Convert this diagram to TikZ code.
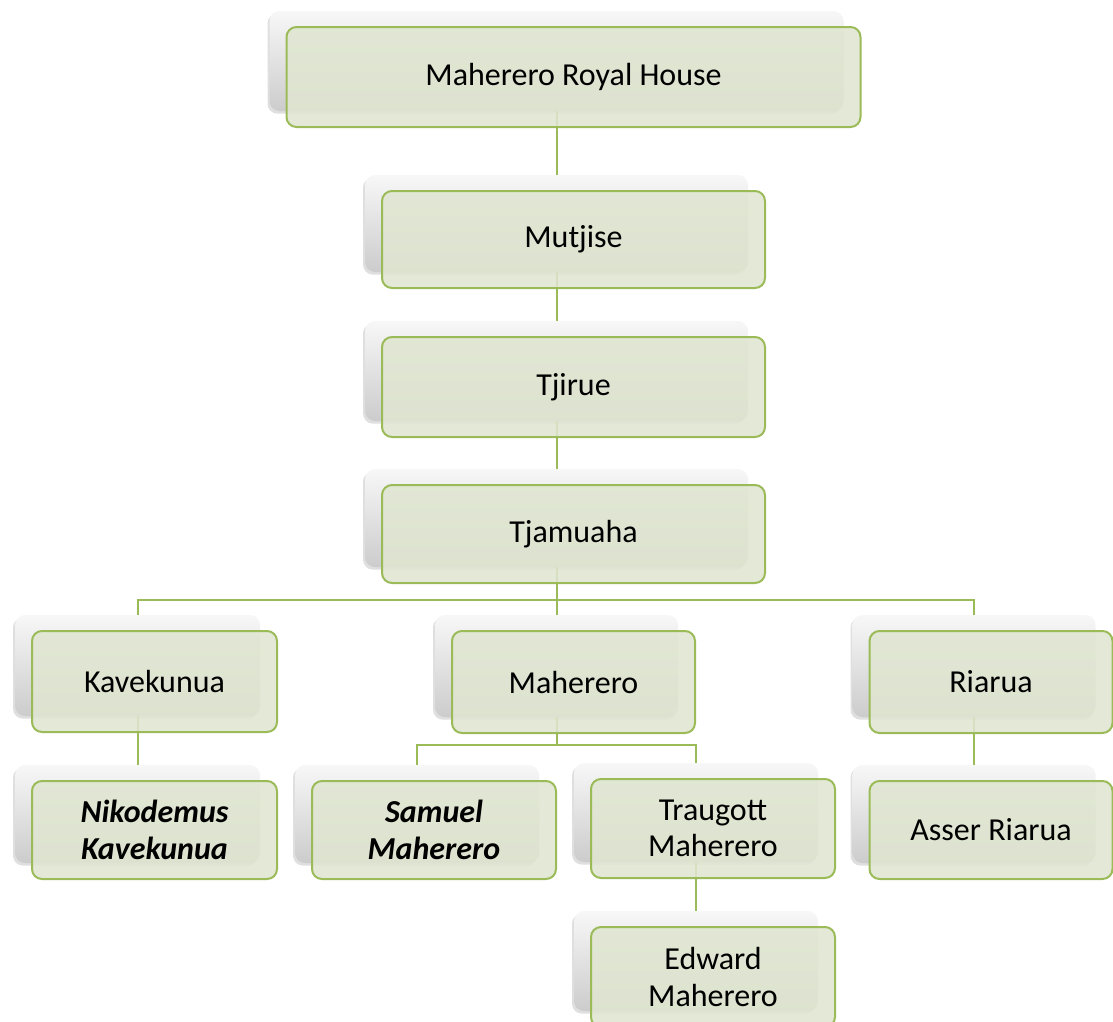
\documentclass[tikz,border=0pt]{standalone}
\usepackage{fontspec}
\setmainfont{Carlito}
\usetikzlibrary{shadows}
\definecolor{gborder}{HTML}{9BBB59}
\definecolor{gfill}{HTML}{DFE6D0}
\tikzset{
 backbox/.style 2 args={rounded corners=7.5pt, minimum width=#1*0.75pt, minimum height=#2*0.75pt,
   top color=white!97!black, bottom color=white!80!black,
   drop shadow={shadow xshift=-1.5pt, shadow yshift=-2pt, opacity=0.25}, inner sep=0pt},
 frontbox/.style 2 args={rounded corners=7.5pt, minimum width=#1*0.75pt, minimum height=#2*0.75pt,
   draw=gborder, line width=1.5pt, fill=gfill, fill opacity=0.88, text opacity=1,
   align=center, font=\fontsize{24}{27.5}\selectfont, inner sep=0pt},
 conn/.style={draw=gborder, line width=1.5pt}
}
\begin{document}
\begin{tikzpicture}[x=0.75pt,y=-0.75pt]
\clip (0,0) rectangle (1113,1021);
\useasboundingbox (0,0) rectangle (1113,1021);
% back boxes
\node[backbox={574}{100}] (top-b) at (556.5,61) {};
\node[backbox={383}{97}]  (mut-b) at (556.5,223.5) {};
\node[backbox={383}{100}] (tji-b) at (556.5,371) {};
\node[backbox={383}{98}]  (tjm-b) at (556.5,518) {};
\node[backbox={245}{101}] (kav-b) at (137.5,665.5) {};
\node[backbox={243}{102}] (mah-b) at (556.5,666) {};
\node[backbox={243}{102}] (ria-b) at (974,666) {};
\node[backbox={245}{98}]  (nik-b) at (137.5,814) {};
\node[backbox={244}{98}]  (sam-b) at (417,814) {};
\node[backbox={244}{99}]  (tra-b) at (696,812.5) {};
\node[backbox={243}{98}]  (ass-b) at (974,814) {};
\node[backbox={244}{100}] (edw-b) at (696,961) {};
% connectors
\coordinate (bus1) at (556.5,600);
\coordinate (bus2) at (556.5,745);
\draw[conn] (top-b.south) -- (mut-b.north);
\draw[conn] (mut-b.south) -- (tji-b.north);
\draw[conn] (tji-b.south) -- (tjm-b.north);
\draw[conn] (tjm-b.south) -- (bus1);
\draw[conn] (kav-b.north) |- (bus1) -| (ria-b.north);
\draw[conn] (bus1) -- (mah-b.north);
\draw[conn] (mah-b.south) -- (bus2);
\draw[conn] (sam-b.north) |- (bus2) -| (tra-b.north);
\draw[conn] (kav-b.south) -- (nik-b.north);
\draw[conn] (ria-b.south) -- (ass-b.north);
\draw[conn] (tra-b.south) -- (edw-b.north);
% front boxes
\node[frontbox={574}{100}] (top) at (573.5,77) {Maherero Royal House};
\node[frontbox={383}{97}]  (mut) at (573.5,239.5) {Mutjise};
\node[frontbox={383}{100}] (tji) at (573.5,387) {Tjirue};
\node[frontbox={383}{98}]  (tjm) at (573.5,534) {Tjamuaha};
\node[frontbox={245}{101}] (kav) at (154.5,681.5) {Kavekunua};
\node[frontbox={243}{102}] (mah) at (573.5,682) {Maherero};
\node[frontbox={243}{102}] (ria) at (991,682) {Riarua};
\node[frontbox={245}{98}]  (nik) at (154.5,830) {\bfseries\itshape Nikodemus\\\bfseries\itshape Kavekunua};
\node[frontbox={244}{98}]  (sam) at (434,830) {\bfseries\itshape Samuel\\\bfseries\itshape Maherero};
\node[frontbox={244}{99}]  (tra) at (713,828.5) {Traugott\\Maherero};
\node[frontbox={243}{98}]  (ass) at (991,830) {Asser Riarua};
\node[frontbox={244}{100}] (edw) at (713,977) {Edward\\Maherero};
\end{tikzpicture}
\end{document}
